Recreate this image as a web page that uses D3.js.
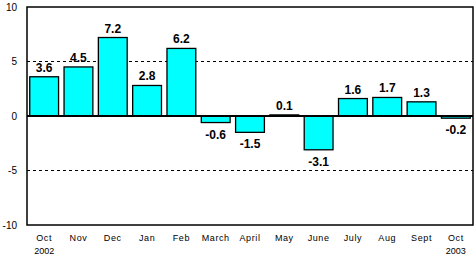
<!DOCTYPE html>
<html><head><meta charset="utf-8">
<script src="https://cdn.jsdelivr.net/npm/d3@7"></script>
<style>body{margin:0;background:#fff;}svg{display:block;}</style>
</head><body>
<script>
const months = ["Oct","Nov","Dec","Jan","Feb","March","April","May","June","July","Aug","Sept","Oct"];
const years = ["2002","","","","","","","","","","","","2003"];
const values = [3.6,4.5,7.2,2.8,6.2,-0.6,-1.5,0.1,-3.1,1.6,1.7,1.3,-0.2];
const yTicks = [10,5,0,-5,-10];
const gridVals = [5,-5];

const W=474,H=256;
const L=27,R=473,T=7,B=225;
const svg=d3.select("body").append("svg").attr("width",W).attr("height",H);
const x=d3.scaleBand().domain(d3.range(values.length)).range([L,R]).paddingInner(0.16).paddingOuter(0.08);
const y=d3.scaleLinear().domain([-10,10]).range([B,T]);
const hy=s=>s.replace("\u2212","-");
const font="Arial, 'Liberation Sans', sans-serif";

// grid
svg.selectAll("line.grid").data(gridVals).enter().append("line")
 .attr("x1",L).attr("x2",R).attr("y1",d=>y(d)).attr("y2",d=>y(d))
 .attr("stroke","#000").attr("stroke-width",1).attr("stroke-dasharray","3,3");

// bars
svg.selectAll("rect.bar").data(values).enter().append("rect")
 .attr("x",(d,i)=>x(i)).attr("width",x.bandwidth())
 .attr("y",d=>y(Math.max(0,d))).attr("height",d=>Math.abs(y(d)-y(0)))
 .attr("fill","#00ffff").attr("stroke","#000").attr("stroke-width",1.3);

// zero line
svg.append("line").attr("x1",L).attr("x2",R).attr("y1",y(0)).attr("y2",y(0)).attr("stroke","#000").attr("stroke-width",2);

// frame
svg.append("rect").attr("x",L).attr("y",T).attr("width",R-L).attr("height",B-T)
 .attr("fill","none").attr("stroke","#000").attr("stroke-width",1.5);

// y axis labels
const ya=svg.append("g").attr("transform",`translate(${L},0)`)
 .call(d3.axisLeft(y).tickValues(yTicks).tickSize(0).tickPadding(10).tickFormat(d=>String(d)));
ya.select(".domain").remove();
ya.selectAll("text").attr("font-family",font).attr("font-size",10).attr("fill","#000");

// value labels
svg.selectAll("text.val").data(values).enter().append("text")
 .attr("x",(d,i)=>x(i)+x.bandwidth()/2)
 .attr("y",d=>d>=0? y(d)-5 : y(d)+16)
 .attr("text-anchor","middle").attr("font-family",font)
 .attr("font-weight","bold").attr("font-size",12).text(d=>hy(d3.format(".1f")(d)));

// x labels
const xa=svg.append("g").attr("transform",`translate(0,${B})`)
 .call(d3.axisBottom(x).tickSize(0).tickPadding(10).tickFormat(i=>months[i]));
xa.select(".domain").remove();
xa.selectAll("text").attr("font-family",font).attr("font-size",9).attr("letter-spacing","0.6px").attr("fill","#000");
svg.selectAll("text.yr").data(years).enter().append("text")
 .attr("x",(d,i)=>x(i)+x.bandwidth()/2).attr("y",254)
 .attr("text-anchor","middle").attr("font-family",font)
 .attr("font-size",9).text(d=>d);
</script>
</body></html>
